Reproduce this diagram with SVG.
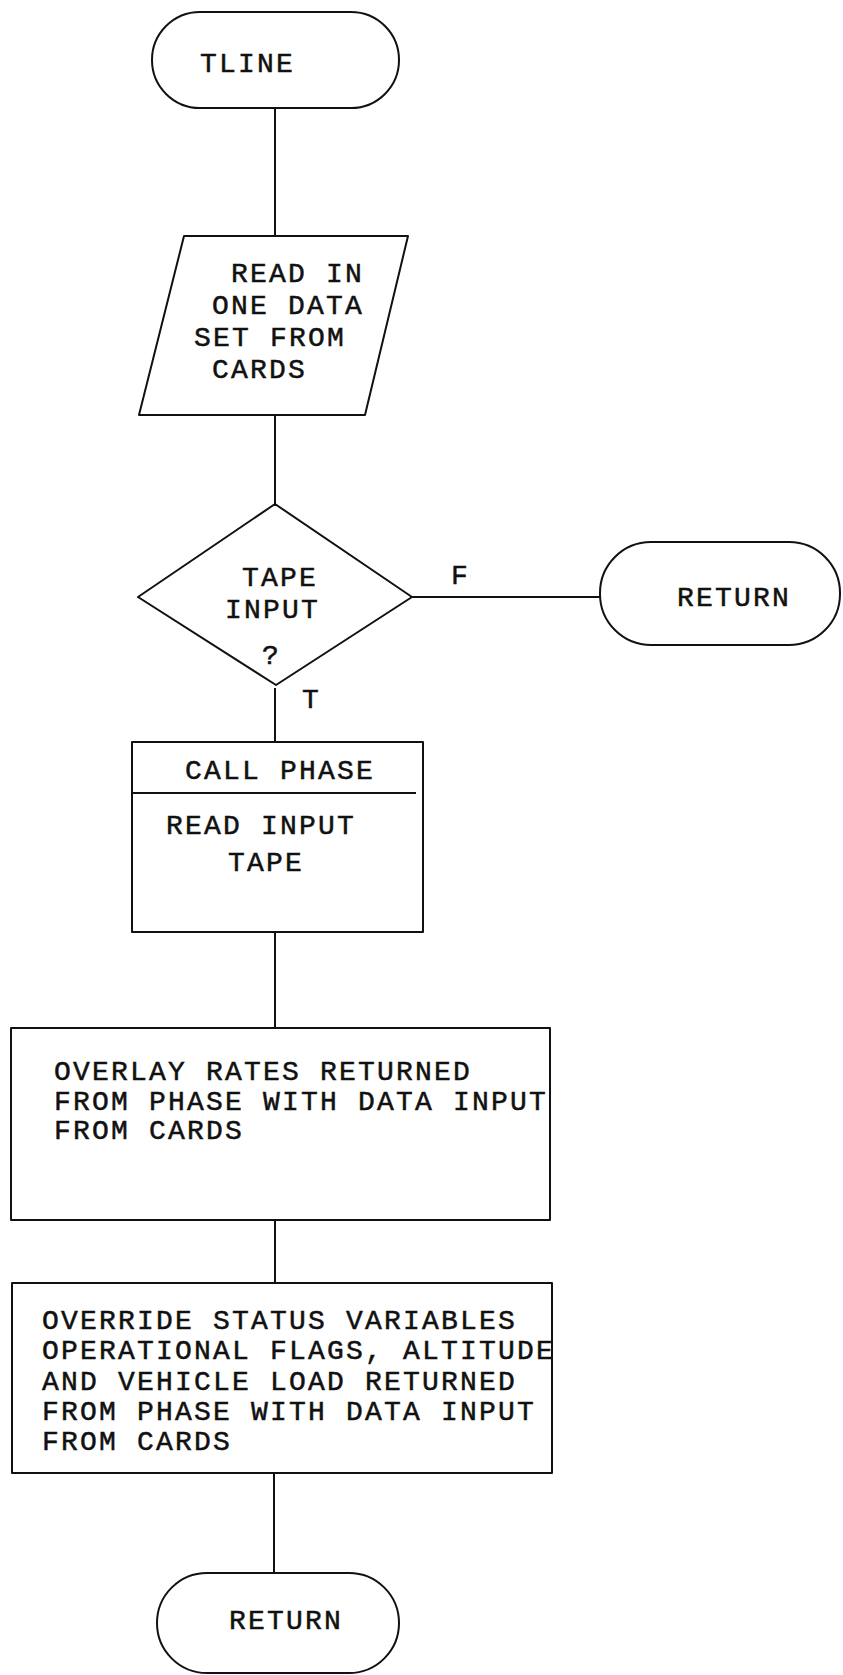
<svg xmlns="http://www.w3.org/2000/svg" width="843" height="1675" viewBox="0 0 843 1675">
<style>
.s{fill:none;stroke:#111;stroke-width:2;stroke-linejoin:round}
.t{font-family:"Liberation Mono","DejaVu Sans Mono",monospace;font-size:28px;letter-spacing:2.2px;fill:#111;stroke:#111;stroke-width:0.5}
</style>
<rect width="843" height="1675" fill="#fff"/>
<g id="connectors" class="s">
<line x1="275" y1="108" x2="275" y2="236"/>
<line x1="275" y1="415" x2="275" y2="504"/>
<line x1="412" y1="597" x2="600" y2="597"/>
<line x1="275" y1="688" x2="275" y2="742"/>
<line x1="275" y1="932" x2="275" y2="1028"/>
<line x1="275" y1="1220" x2="275" y2="1283"/>
<line x1="274" y1="1473" x2="274" y2="1573"/>
</g>
<g id="tline">
<rect class="s" x="152" y="12" width="247" height="96" rx="48"/>
<text class="t" x="200" y="72">TLINE</text>
</g>
<g id="read-cards">
<polygon class="s" points="184,236 408,236 365,415 139,415"/>
<text class="t" x="231" y="282">READ IN</text>
<text class="t" x="212" y="314">ONE DATA</text>
<text class="t" x="194" y="346">SET FROM</text>
<text class="t" x="212" y="378">CARDS</text>
</g>
<g id="tape-input">
<polygon class="s" points="275,504 412,597 276,685 138,597"/>
<text class="t" x="242" y="586">TAPE</text>
<text class="t" x="225" y="618">INPUT</text>
<text class="t" x="262" y="664">?</text>
</g>
<g id="labels">
<text class="t" x="451" y="584">F</text>
<text class="t" x="302" y="708">T</text>
</g>
<g id="return-right">
<rect class="s" x="600" y="542" width="240" height="103" rx="51"/>
<text class="t" x="677" y="606">RETURN</text>
</g>
<g id="call-phase">
<rect class="s" x="132" y="742" width="291" height="190"/>
<line class="s" x1="132" y1="793" x2="416" y2="793"/>
<text class="t" x="185" y="779">CALL PHASE</text>
<text class="t" x="166" y="834">READ INPUT</text>
<text class="t" x="228" y="871">TAPE</text>
</g>
<g id="overlay">
<rect class="s" x="11" y="1028" width="539" height="192"/>
<text class="t" x="54" y="1080">OVERLAY RATES RETURNED</text>
<text class="t" x="54" y="1110">FROM PHASE WITH DATA INPUT</text>
<text class="t" x="54" y="1139">FROM CARDS</text>
</g>
<g id="override">
<rect class="s" x="12" y="1283" width="540" height="190"/>
<text class="t" x="42" y="1329">OVERRIDE STATUS VARIABLES</text>
<text class="t" x="42" y="1359">OPERATIONAL FLAGS, ALTITUDE</text>
<text class="t" x="42" y="1390">AND VEHICLE LOAD RETURNED</text>
<text class="t" x="42" y="1420">FROM PHASE WITH DATA INPUT</text>
<text class="t" x="42" y="1450">FROM CARDS</text>
</g>
<g id="return-bottom">
<rect class="s" x="157" y="1573" width="242" height="100" rx="50"/>
<text class="t" x="229" y="1629">RETURN</text>
</g>
</svg>
